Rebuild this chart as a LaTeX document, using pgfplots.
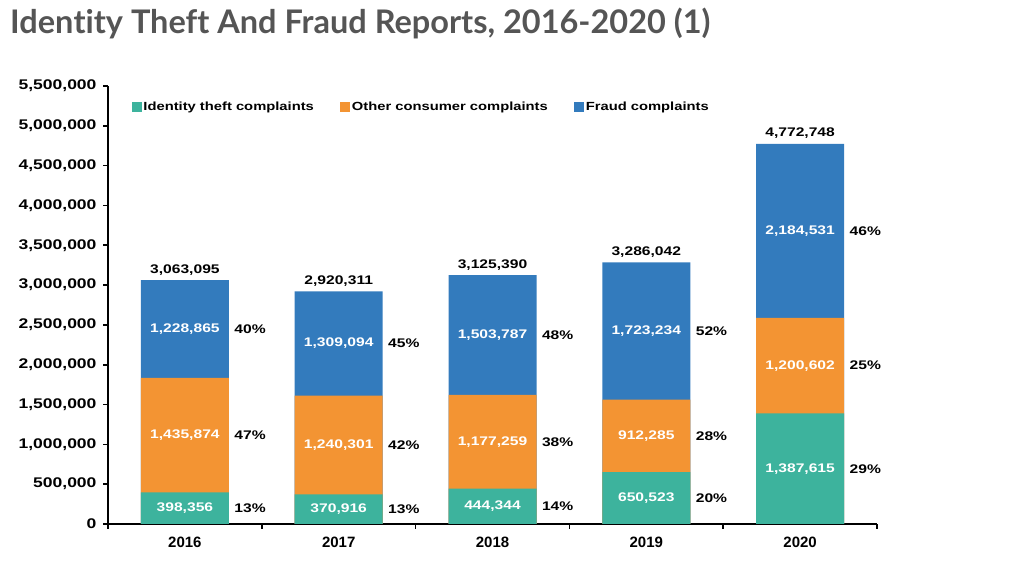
\documentclass[border=0pt]{standalone}
\usepackage{fontspec}
\setmainfont{Liberation Sans}[FakeStretch=1.25]
\newfontfamily\plainfont{Liberation Sans}
\newfontfamily\titlefont{Lato}[Ligatures=NoCommon]
\usepackage{pgfplots}
\usepackage{pgfplotstable}
\pgfplotsset{compat=1.18}

\definecolor{idc}{HTML}{3DB39D}
\definecolor{othc}{HTML}{F39433}
\definecolor{frc}{HTML}{337BBD}
\definecolor{titlegray}{HTML}{555555}

% x: category index, values, printed labels, shares in percent
\pgfplotstableread{
x id other fraud lid lother lfraud ltotal pid pother pfraud
0 398356 1435874 1228865 398,356 1,435,874 1,228,865 3,063,095 13 47 40
1 370916 1240301 1309094 370,916 1,240,301 1,309,094 2,920,311 13 42 45
2 444344 1177259 1503787 444,344 1,177,259 1,503,787 3,125,390 14 38 48
3 650523 912285 1723234 650,523 912,285 1,723,234 3,286,042 20 28 52
4 1387615 1200602 2184531 1,387,615 1,200,602 2,184,531 4,772,748 29 25 46
}\data

\pgfplotsset{
  seg/.style={ybar, bar width=88pt, bar shift=0pt, draw=none, fill=#1, forget plot},
  lab/.style={only marks, mark=none,
    point meta=explicit symbolic, nodes near coords, forget plot,
    every node near coord/.append style={font=\bfseries\fontsize{12.5}{14}\selectfont, text=#1, anchor=center}},
  pct/.style={lab=black, nodes near coords={\pgfplotspointmeta\%},
    every node near coord/.append style={anchor=west, xshift=46pt}},
}

\begin{document}
\begin{tikzpicture}
\node[anchor=base west, inner sep=0pt, font=\titlefont\bfseries\fontsize{32.5}{38}\selectfont, text=titlegray]
  at (10pt,535pt) {Iden\kern0ptt\kern0ptity Theft And Fraud Reports, 2016-2020 (1)};
\begin{axis}[
  at={(108pt,45pt)}, anchor=south west,
  scale only axis, width=769pt, height=438pt,
  xmin=-0.5, xmax=4.5, ymin=0, ymax=5500000,
  clip=false,
  axis x line*=bottom, axis y line*=left,
  axis line style={black, line width=2.2pt},
  xtick={-0.5,0.5,1.5,2.5,3.5,4.5},
  x tick label as interval,
  xticklabels={2016,2017,2018,2019,2020},
  x tick label style={font=\plainfont\bfseries\fontsize{15}{17}\selectfont, yshift=-4pt},
  scaled y ticks=false,
  ytick={0,500000,...,5500000},
  yticklabels={0,{500,000},{1,000,000},{1,500,000},{2,000,000},{2,500,000},{3,000,000},{3,500,000},{4,000,000},{4,500,000},{5,000,000},{5,500,000}},
  y tick label style={font=\bfseries\fontsize{14}{16}\selectfont, xshift=-3pt},
  tick align=outside, major tick length=5pt,
  tick style={black, line width=1.6pt},
  legend image code/.code={\fill[#1, draw=none] (0pt,-5pt) rectangle (10pt,5pt);},
  legend columns=3,
  legend style={draw=none, fill=none, at={(rel axis cs:0.027,0.952)}, anchor=west,
    font=\bfseries\fontsize{11.8}{13}\selectfont,
    nodes={inner xsep=1.5pt},
    /tikz/every even column/.append style={column sep=25pt}},
]
\addlegendimage{fill=idc}
\addlegendentry{Identity theft complaints}
\addlegendimage{fill=othc}
\addlegendentry{Other consumer complaints}
\addlegendimage{fill=frc}
\addlegendentry{Fraud complaints}

% bars drawn from zero, largest first, so they read as a stack
\addplot[seg=frc] table[x=x, y expr=\thisrow{id}+\thisrow{other}+\thisrow{fraud}] {\data};
\addplot[seg=othc] table[x=x, y expr=\thisrow{id}+\thisrow{other}] {\data};
\addplot[seg=idc] table[x=x, y=id] {\data};

% values inside the segments
\addplot[lab=white] table[x=x, y expr=\thisrow{id}/2, meta=lid] {\data};
\addplot[lab=white] table[x=x, y expr=\thisrow{id}+\thisrow{other}/2, meta=lother] {\data};
\addplot[lab=white] table[x=x, y expr=\thisrow{id}+\thisrow{other}+\thisrow{fraud}/2, meta=lfraud] {\data};

% shares to the right of the bars
\addplot[pct] table[x=x, y expr=\thisrow{id}/2, meta=pid] {\data};
\addplot[pct] table[x=x, y expr=\thisrow{id}+\thisrow{other}/2, meta=pother] {\data};
\addplot[pct] table[x=x, y expr=\thisrow{id}+\thisrow{other}+\thisrow{fraud}/2, meta=pfraud] {\data};

% totals on top
\addplot[lab=black, every node near coord/.append style={anchor=base, yshift=7pt}]
  table[x=x, y expr=\thisrow{id}+\thisrow{other}+\thisrow{fraud}, meta=ltotal] {\data};
\end{axis}
\pgfresetboundingbox
\useasboundingbox (0,0) rectangle (1024pt,569pt);
\end{tikzpicture}
\end{document}
